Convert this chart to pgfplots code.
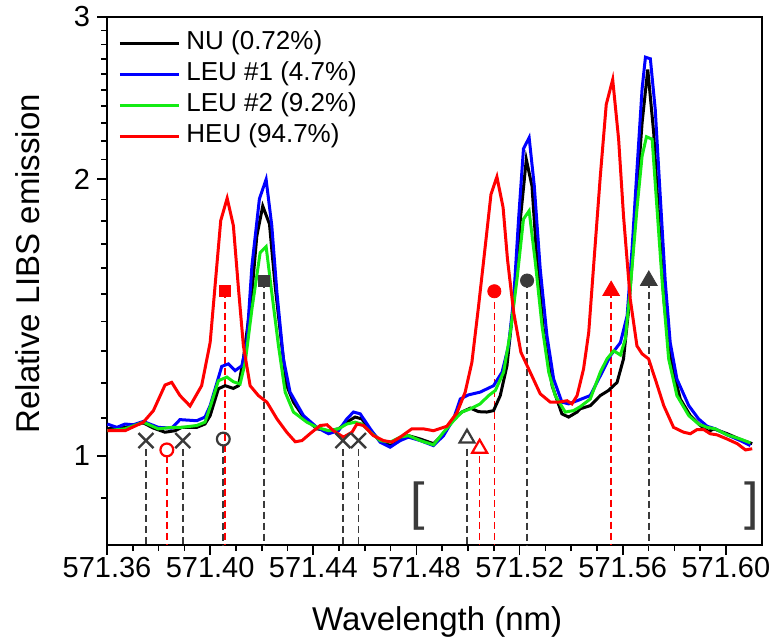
\documentclass[border=0pt]{standalone}
\usepackage{pgfplots}
\pgfplotsset{compat=1.18}
\usepackage{fontspec}
\setmainfont{Liberation Sans}
\definecolor{mgray}{HTML}{3A3A3A}
\definecolor{pblue}{RGB}{0,0,255}
\definecolor{pgreen}{RGB}{20,235,20}
\definecolor{pred}{RGB}{255,0,0}
\begin{document}
\begin{tikzpicture}
\useasboundingbox (-53.5pt,-49pt) rectangle (331pt,272.5pt);
\begin{axis}[
  scale only axis, width=327.5pt, height=264pt,
  xmin=571.36, xmax=571.614, ymin=0.8, ymax=3, ymode=log,
  axis line style={line width=1pt},
  tick pos=left, tick align=outside,
  major tick length=5pt, minor tick length=3pt,
  every tick/.style={black, line width=0.8pt},
  xtick={571.36,571.40,571.44,571.48,571.52,571.56,571.60},
  xticklabels={571.36,571.40,571.44,571.48,571.52,571.56,571.60},
  minor x tick num=3,
  ytick={1,2,3}, yticklabels={1,2,3},
  minor ytick={0.9,1.1,1.2,1.3,1.4,1.5,1.6,1.7,1.8,1.9,2.1,2.2,2.3,2.4,2.5,2.6,2.7,2.8,2.9},
  /pgf/number format/assume math mode=true,
  ticklabel style={font=\fontsize{14.5}{14.5}\selectfont},
  xticklabel style={yshift=2.5pt},
  xlabel={Wavelength (nm)}, ylabel={Relative LIBS emission},
  every axis x label/.style={at={(axis description cs:0.504,-0.146)},anchor=center,font=\fontsize{16.5}{16.5}\selectfont},
  every axis y label/.style={at={(axis description cs:-0.1206,0.533)},rotate=90,anchor=center,font=\fontsize{16.5}{16.5}\selectfont},
  legend style={at={(axis description cs:0.0168,0.9805)}, anchor=north west, draw=none, fill=none,
    inner sep=0pt, font=\fontsize{13}{15}\selectfont, row sep=0pt, column sep=3pt,
    nodes={inner sep=0pt, text height=11pt, text depth=4.5pt}},
  legend cell align=left,
  legend image code/.code={\draw[#1] (0pt,0pt) -- (29.5pt,0pt);},
  dl/.style={line width=0.8pt, dash pattern=on 3.5pt off 2pt, forget plot},
]
% dashed guide lines
\addplot[mgray, dl] coordinates {(571.3751,1.017) (571.3751,0.8)};
\addplot[mgray, dl] coordinates {(571.3894,1.017) (571.3894,0.8)};
\addplot[pred, dl] coordinates {(571.3832,1.000) (571.3832,0.8)};
\addplot[mgray, dl] coordinates {(571.4051,1.026) (571.4051,0.8)};
\addplot[pred, dl] coordinates {(571.4058,1.512) (571.4058,0.8)};
\addplot[mgray, dl] coordinates {(571.4209,1.551) (571.4209,0.8)};
\addplot[mgray, dl] coordinates {(571.4515,1.017) (571.4515,0.8)};
\addplot[mgray, dl] coordinates {(571.4575,1.017) (571.4575,0.8)};
\addplot[mgray, dl] coordinates {(571.4996,1.018) (571.4996,0.8)};
\addplot[pred, dl] coordinates {(571.5045,1.000) (571.5045,0.8)};
\addplot[pred, dl] coordinates {(571.5102,1.510) (571.5102,0.8)};
\addplot[mgray, dl] coordinates {(571.5229,1.551) (571.5229,0.8)};
\addplot[pred, dl] coordinates {(571.5555,1.512) (571.5555,0.8)};
\addplot[mgray, dl] coordinates {(571.5701,1.551) (571.5701,0.8)};

\addplot[black, line width=1.5pt] coordinates {
(571.3601,1.070) (571.3670,1.074) (571.3741,1.086) (571.3780,1.072) (571.3825,1.061) (571.3864,1.065) (571.3890,1.074) (571.3948,1.074) (571.3980,1.083) (571.4000,1.106) (571.4032,1.183) (571.4058,1.192) (571.4090,1.184) (571.4110,1.192) (571.4129,1.275) (571.4162,1.505) (571.4181,1.734) (571.4204,1.869) (571.4230,1.787) (571.4252,1.530) (571.4278,1.317) (571.4297,1.192) (571.4323,1.144) (571.4362,1.102) (571.4414,1.070) (571.4459,1.065) (571.4498,1.070) (571.4530,1.088) (571.4562,1.102) (571.4588,1.097) (571.4621,1.065) (571.4659,1.039) (571.4698,1.026) (571.4737,1.043) (571.4769,1.052) (571.4815,1.043) (571.4866,1.031) (571.4905,1.057) (571.4944,1.097) (571.4976,1.116) (571.5009,1.127) (571.5041,1.117) (571.5073,1.116) (571.5099,1.120) (571.5125,1.163) (571.5151,1.253) (571.5177,1.468) (571.5203,1.809) (571.5226,2.100) (571.5248,1.965) (571.5267,1.636) (571.5293,1.362) (571.5326,1.192) (571.5364,1.111) (571.5390,1.102) (571.5423,1.116) (571.5435,1.125) (571.5474,1.134) (571.5513,1.163) (571.5545,1.178) (571.5578,1.202) (571.5603,1.275) (571.5623,1.444) (571.5649,1.823) (571.5675,2.303) (571.5697,2.630) (571.5720,2.245) (571.5739,1.823) (571.5759,1.481) (571.5785,1.275) (571.5823,1.153) (571.5862,1.106) (571.5901,1.079) (571.5933,1.063) (571.5953,1.070) (571.6005,1.057) (571.6056,1.042) (571.6102,1.031)
};
\addlegendentry{NU (0.72\%)}

\addplot[pblue, line width=1.5pt] coordinates {
(571.3601,1.083) (571.3638,1.074) (571.3670,1.083) (571.3702,1.081) (571.3741,1.090) (571.3799,1.074) (571.3851,1.072) (571.3883,1.095) (571.3948,1.092) (571.3980,1.102) (571.4000,1.134) (571.4045,1.251) (571.4071,1.259) (571.4097,1.238) (571.4123,1.253) (571.4142,1.328) (571.4162,1.609) (571.4191,1.903) (571.4217,1.998) (571.4239,1.780) (571.4259,1.505) (571.4284,1.275) (571.4310,1.173) (571.4362,1.106) (571.4414,1.074) (571.4459,1.057) (571.4498,1.065) (571.4530,1.097) (571.4556,1.116) (571.4582,1.111) (571.4621,1.070) (571.4659,1.035) (571.4698,1.022) (571.4737,1.039) (571.4769,1.048) (571.4815,1.039) (571.4866,1.026) (571.4905,1.052) (571.4944,1.097) (571.4970,1.153) (571.5002,1.165) (571.5047,1.173) (571.5099,1.192) (571.5132,1.233) (571.5157,1.317) (571.5177,1.481) (571.5196,1.809) (571.5215,2.157) (571.5237,2.218) (571.5257,1.965) (571.5280,1.596) (571.5306,1.351) (571.5332,1.212) (571.5364,1.144) (571.5390,1.139) (571.5423,1.148) (571.5474,1.163) (571.5513,1.222) (571.5552,1.285) (571.5591,1.328) (571.5617,1.420) (571.5636,1.677) (571.5656,2.066) (571.5675,2.506) (571.5688,2.713) (571.5707,2.702) (571.5726,2.380) (571.5746,1.903) (571.5765,1.544) (571.5784,1.328) (571.5810,1.212) (571.5856,1.134) (571.5894,1.097) (571.5927,1.077) (571.5959,1.070) (571.6005,1.054) (571.6056,1.039) (571.6095,1.026)
};
\addlegendentry{LEU \#1 (4.7\%)}

\addplot[pgreen, line width=1.5pt] coordinates {
(571.3601,1.065) (571.3670,1.070) (571.3741,1.088) (571.3799,1.070) (571.3851,1.074) (571.3890,1.074) (571.3948,1.079) (571.3980,1.088) (571.4000,1.130) (571.4032,1.207) (571.4065,1.218) (571.4090,1.204) (571.4116,1.197) (571.4136,1.264) (571.4162,1.444) (571.4194,1.664) (571.4217,1.689) (571.4239,1.505) (571.4265,1.317) (571.4291,1.173) (571.4323,1.116) (571.4375,1.088) (571.4414,1.074) (571.4459,1.065) (571.4498,1.070) (571.4530,1.083) (571.4562,1.088) (571.4588,1.083) (571.4621,1.061) (571.4659,1.039) (571.4698,1.035) (571.4737,1.048) (571.4769,1.052) (571.4815,1.039) (571.4866,1.028) (571.4905,1.061) (571.4944,1.092) (571.4976,1.116) (571.5009,1.125) (571.5047,1.139) (571.5080,1.163) (571.5106,1.178) (571.5138,1.233) (571.5164,1.362) (571.5190,1.557) (571.5215,1.809) (571.5237,1.847) (571.5261,1.623) (571.5287,1.385) (571.5313,1.233) (571.5338,1.163) (571.5377,1.116) (571.5409,1.120) (571.5435,1.131) (571.5474,1.153) (571.5513,1.233) (571.5539,1.275) (571.5565,1.301) (571.5591,1.287) (571.5610,1.340) (571.5629,1.518) (571.5655,1.855) (571.5675,2.118) (571.5692,2.223) (571.5714,2.209) (571.5733,1.855) (571.5753,1.544) (571.5778,1.275) (571.5810,1.163) (571.5856,1.106) (571.5894,1.083) (571.5927,1.074) (571.5959,1.070) (571.6005,1.054) (571.6056,1.043) (571.6095,1.033)
};
\addlegendentry{LEU \#2 (9.2\%)}

\addplot[pred, line width=1.5pt] coordinates {
(571.3601,1.065) (571.3670,1.065) (571.3741,1.088) (571.3780,1.120) (571.3825,1.194) (571.3851,1.202) (571.3883,1.163) (571.3922,1.133) (571.3967,1.192) (571.4000,1.328) (571.4019,1.530) (571.4041,1.802) (571.4066,1.906) (571.4090,1.780) (571.4110,1.518) (571.4129,1.317) (571.4155,1.192) (571.4187,1.163) (571.4220,1.144) (571.4259,1.097) (571.4297,1.061) (571.4330,1.036) (571.4356,1.039) (571.4394,1.061) (571.4427,1.079) (571.4453,1.081) (571.4478,1.065) (571.4517,1.048) (571.4550,1.061) (571.4569,1.083) (571.4595,1.079) (571.4633,1.052) (571.4672,1.039) (571.4705,1.035) (571.4737,1.048) (571.4782,1.070) (571.4827,1.070) (571.4866,1.065) (571.4918,1.077) (571.4957,1.114) (571.4989,1.173) (571.5015,1.264) (571.5041,1.456) (571.5067,1.692) (571.5089,1.925) (571.5112,2.011) (571.5136,1.862) (571.5153,1.636) (571.5177,1.432) (571.5205,1.296) (571.5241,1.233) (571.5280,1.168) (571.5319,1.144) (571.5351,1.144) (571.5384,1.148) (571.5403,1.139) (571.5423,1.163) (571.5448,1.243) (571.5468,1.362) (571.5487,1.609) (571.5513,2.015) (571.5536,2.410) (571.5561,2.565) (571.5584,2.209) (571.5603,1.823) (571.5629,1.481) (571.5655,1.317) (571.5675,1.291) (571.5700,1.275) (571.5726,1.212) (571.5759,1.134) (571.5797,1.074) (571.5836,1.061) (571.5862,1.057) (571.5888,1.068) (571.5914,1.068) (571.5939,1.057) (571.5966,1.054) (571.6005,1.043) (571.6044,1.031) (571.6076,1.015) (571.6102,1.018)
};
\addlegendentry{HEU (94.7\%)}

% markers
\addplot[only marks, forget plot, mark=x, mark size=5.3pt, mgray, mark options={line width=1.2pt}]
  coordinates {(571.3751,1.039) (571.3894,1.039) (571.4515,1.039) (571.4575,1.039)};
\addplot[only marks, forget plot, mark=o, mark size=3.2pt, pred, mark options={line width=1.1pt}]
  coordinates {(571.3832,1.015)};
\addplot[only marks, forget plot, mark=o, mark size=3.2pt, mgray, mark options={line width=1.1pt}]
  coordinates {(571.4051,1.043)};
\addplot[only marks, forget plot, mark=square*, mark size=2.8pt, pred]
  coordinates {(571.4058,1.512)};
\addplot[only marks, forget plot, mark=square*, mark size=2.8pt, mgray]
  coordinates {(571.4209,1.551)};
\addplot[only marks, forget plot, mark=triangle, mark size=4.3pt, mgray, mark options={line width=1.1pt}]
  coordinates {(571.4996,1.045)};
\addplot[only marks, forget plot, mark=triangle, mark size=4.3pt, pred, mark options={line width=1.1pt}]
  coordinates {(571.5045,1.019)};
\addplot[only marks, forget plot, mark=*, mark size=3.3pt, pred]
  coordinates {(571.5102,1.510)};
\addplot[only marks, forget plot, mark=*, mark size=3.3pt, mgray]
  coordinates {(571.5229,1.551)};
\addplot[only marks, forget plot, mark=triangle*, mark size=4.8pt, pred]
  coordinates {(571.5555,1.512)};
\addplot[only marks, forget plot, mark=triangle*, mark size=4.8pt, mgray]
  coordinates {(571.5701,1.551)};

\node[text=mgray, font=\fontsize{26}{26}\selectfont, inner sep=0pt] at (axis cs:571.4803,0.8813) {[};
\node[text=mgray, font=\fontsize{26}{26}\selectfont, inner sep=0pt] at (axis cs:571.6099,0.8813) {]};
\end{axis}
\end{tikzpicture}
\end{document}
